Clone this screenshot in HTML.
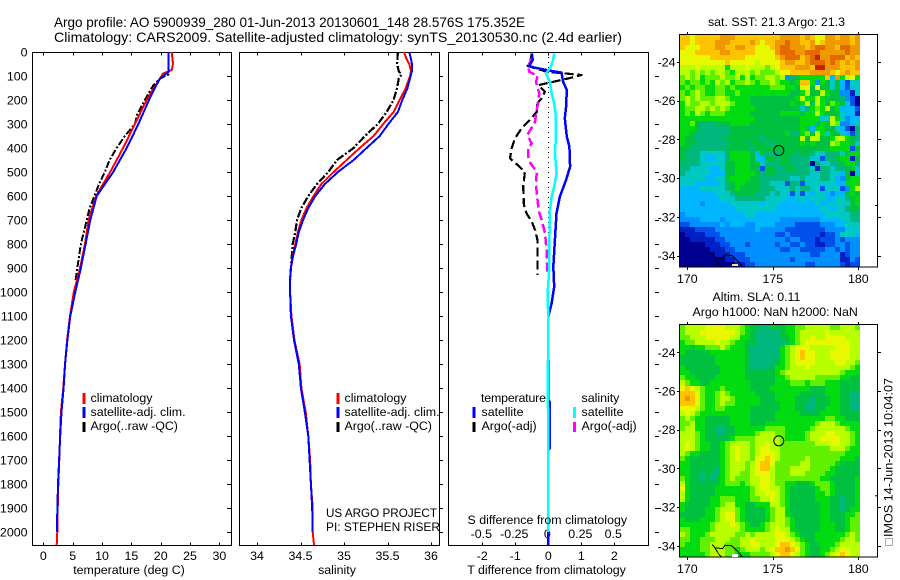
<!DOCTYPE html>
<html><head><meta charset="utf-8"><title>Argo profile</title>
<style>
html,body{margin:0;padding:0;background:#fff;}
svg{display:block;}
text{font-family:"Liberation Sans",sans-serif;font-size:12.4px;fill:#000;}
.t{font-size:14px;}
</style></head>
<body>
<svg id="fig" xmlns="http://www.w3.org/2000/svg" width="900" height="580" viewBox="0 0 900 580">
<rect width="900" height="580" fill="#fff"/>
<g id="back"></g>
<g id="marks"></g>
<text class="t" x="54" y="27" textLength="471" lengthAdjust="spacingAndGlyphs">Argo profile: AO 5900939_280 01-Jun-2013 20130601_148 28.576S 175.352E</text>
<text class="t" x="54" y="42" textLength="568" lengthAdjust="spacingAndGlyphs">Climatology: CARS2009. Satellite-adjusted climatology: synTS_20130530.nc (2.4d earlier)</text>
<text x="129" y="574" text-anchor="middle">temperature (deg C)</text>
<text x="337" y="574" text-anchor="middle">salinity</text>
<text x="546.5" y="574" text-anchor="middle">T difference from climatology</text>
<text x="467.5" y="524">S difference from climatology</text>
<g>
<rect x="82.5" y="393" width="3" height="11" fill="#f00"/><rect x="82.5" y="407" width="3" height="11" fill="#00f"/><rect x="82.5" y="422" width="3" height="10" fill="#000"/>
<text x="90.5" y="402">climatology</text><text x="90.5" y="416">satellite-adj. clim.</text><text x="90.5" y="430">Argo(..raw -QC)</text>
</g>
<g>
<rect x="336.5" y="393" width="3" height="11" fill="#f00"/><rect x="336.5" y="407" width="3" height="11" fill="#00f"/><rect x="336.5" y="422" width="3" height="10" fill="#000"/>
<text x="344.5" y="402">climatology</text><text x="344.5" y="416">satellite-adj. clim.</text><text x="344.5" y="430">Argo(..raw -QC)</text>
</g>
<g>
<rect x="472.5" y="407" width="3" height="11" fill="#00f"/><rect x="472.5" y="422" width="3" height="10" fill="#000"/>
<rect x="573" y="407" width="3" height="11" fill="#0ff"/><rect x="573" y="422" width="3" height="10" fill="#f0f"/>
<text x="481" y="402" textLength="65">temperature</text><text x="481.5" y="416">satellite</text><text x="481.5" y="430">Argo(-adj)</text>
<text x="581.5" y="402">salinity</text><text x="581.5" y="416">satellite</text><text x="581.5" y="430">Argo(-adj)</text>
</g>
<text x="326" y="517" textLength="111" lengthAdjust="spacingAndGlyphs">US ARGO PROJECT</text>
<text x="326" y="531" textLength="114" lengthAdjust="spacingAndGlyphs">PI: STEPHEN RISER</text>
<text x="776.5" y="26" text-anchor="middle">sat. SST: 21.3 Argo: 21.3</text>
<text x="712.5" y="301">Altim. SLA: 0.11</text>
<text x="692.5" y="316">Argo h1000: NaN h2000: NaN</text>
<rect x="885.5" y="538.5" width="7" height="7" fill="none" stroke="#555" stroke-width="1" stroke-dasharray="1 1"/>
<text transform="translate(892.5,537) rotate(-90)" textLength="159" lengthAdjust="spacingAndGlyphs">IMOS 14-Jun-2013 10:04:07</text>
</svg>
<script>
// ---- profile data (depth in m) ----
const depthTicks = [0,100,200,300,400,500,600,700,800,900,1000,1100,1200,1300,1400,1500,1600,1700,1800,1900,2000];
const tempTicks = [0,5,10,15,20,25,30];
const salTicks = [34,34.5,35,35.5,36];
const salTickLabels = ['34','34.5','35','35.5','36'];
const dTTicks = [-2,-1,0,1,2];
const dSTicks = [-0.5,-0.25,0,0.25,0.5];
const dSTickLabels = ['-0.5','-0.25','0','0.25','0.5'];

const tempClimDepth = [0,50,75,90,150,200,300,400,500,600,700,800,900,1000,1100,1200,1300,1400,1500,1600,1700,1800,1900,2000,2054];
const tempClim = [21.87,22.1,21.87,20.4,18.85,17.6,15.6,13.6,11.4,9.0,7.7,7.1,6.25,5.2,4.55,4.05,3.7,3.4,3.0,2.85,2.73,2.56,2.45,2.39,2.28];
const tempSatDepth = [0,85,90,110,150,200,300,400,500,600,700,800,900,1000,1100,1200,1300,1400,1500,1600,1700,1800,1900,2000];
const tempSat = [21.3,21.3,21.0,19.9,19.0,18.0,16.2,14.2,11.9,9.1,8.0,7.2,6.4,5.45,4.6,4.1,3.72,3.45,3.1,2.88,2.7,2.5,2.4,2.3];
const tempArgoDepth = [0,85,95,110,140,200,260,300,350,400,450,500,550,600,650,700,800,900,950];
const tempArgo = [21.3,21.3,21.3,19.9,18.7,17.3,16.0,15.6,13.9,12.5,11.3,10.5,9.5,8.7,7.9,7.4,6.4,5.8,5.5];

const salClimDepth = [0,30,50,80,100,150,200,250,300,350,400,450,500,550,600,650,700,750,800,850,900,950,1000,1030,1100,1200,1300,1400,1500,1600,1700,1800,1900,2000,2054];
const salClim = [35.69,35.72,35.75,35.77,35.76,35.71,35.64,35.57,35.45,35.34,35.18,35.03,34.88,34.74,34.65,34.57,34.51,34.47,34.44,34.41,34.39,34.38,34.38,34.385,34.395,34.43,34.49,34.51,34.56,34.59,34.61,34.62,34.64,34.64,34.655];
const salSatDepth = [0,30,50,80,100,150,200,250,300,350,400,450,500,550,600,650,700,750,800,850,900,950,1000,1100,1200,1300,1400,1500,1600,1700,1800,1900,2000];
const salSat = [35.75,35.77,35.78,35.78,35.765,35.73,35.67,35.62,35.51,35.41,35.26,35.11,34.93,34.78,34.67,34.59,34.53,34.48,34.45,34.415,34.39,34.38,34.38,34.39,34.425,34.48,34.505,34.55,34.59,34.605,34.62,34.635,34.64];
const salArgoDepth = [0,50,80,95,110,150,200,250,300,350,400,450,500,550,600,650,700,750,800,850,900,950];
const salArgo = [35.62,35.61,35.63,35.66,35.63,35.61,35.57,35.49,35.39,35.24,35.11,34.92,34.82,34.69,34.59,34.51,34.46,34.44,34.41,34.40,34.39,34.38];

const dTSatDepth = [6,33,58,64,78,86,124,158,228,276,353,394,478,533,603,672,783,894,978,1047,1103,1450,1460,1650,1660,2054];
const dTSat = [-0.5,-0.47,-0.58,-0.45,0.05,0.40,0.45,0.56,0.54,0.5,0.56,0.64,0.66,0.54,0.35,0.25,0.2,0.15,0.18,0.1,0,0,0.05,0.05,0,0];
const dSSatDepth = [6,40,68,89,124,172,214,262,353,422,506,561,603,658,783,894,1006,1117,1400,1600,2000];
const dSSat = [0.045,0.033,0.013,-0.018,0.013,0.025,0.045,0.056,0.058,0.05,0.063,0.045,0.025,0.013,0.008,0.008,-0.005,0,-0.004,0,0];
const dSArgoDepth = [19,58,82,100,124,151,172,207,242,290,304,346,381,401,436,464,499,554,610,665,700,756,825,908,936];
const dSArgo = [-0.119,-0.152,-0.144,-0.081,-0.093,-0.081,-0.068,-0.076,-0.088,-0.101,-0.114,-0.159,-0.126,-0.152,-0.152,-0.134,-0.088,-0.093,-0.083,-0.071,-0.05,-0.025,-0.013,-0.008,0.003];
const dTArgoDepth = [6,54,58,82,96,110,124,138,165,193,214,249,283,318,360,401,443,471,499,561,638,672,707,742,783,867,929];
const dTArgo = [-0.5,-0.57,-0.63,-0.05,1.01,0.61,0.15,-0.3,-0.1,-0.2,-0.33,-0.35,-0.56,-0.81,-1.01,-1.11,-1.16,-0.93,-0.71,-0.76,-0.74,-0.66,-0.5,-0.4,-0.33,-0.33,-0.33];

// ---- map data: colour-level per cell, hex digit per cell, north to south ----
const mapLonTicks = [170,175,180];
const mapLatTicks = [24,26,28,30,32,34];
const coastLon = [171.46,171.62,172.07,172.2,172.6,172.98,173.24];
const coastLat = [33.94,34.11,34.14,33.97,34.0,34.32,34.6];
const coastLon2 = [171.62,171.81,172.0];
const coastLat2 = [34.11,34.4,34.58];
const argoLon = 175.352;
const argoLat = 28.576;
const sstRows = [
"ccbccc ccdddc cccccc ccdddd cdcbbd dcddcd",
"ccbccc cdddcc ccdcbc cddedd ccdbcd ddddcd",
"cbbbcc cddccd dccbbb cdeedd dcdeed dceedd",
"bbbccc ccddcc cccbbb bdeeed deeedd dddedd",
"bbbbbb cccccc cbbbbb bcdeee cdefdd eeecdc",
"bbbbbb bbbcbb bbbabb bbcddc cdeeed edcdcd",
"aaabaa aaa8aa abaaa9 abcccd ddcffd ddcccd",
"aa9a9a 9aa98a aa9a99 9abbcc ccdddd cbcdcc",
"9a9a89 99a99a 8a899a a9a367 88888c 4d8ab8",
"989989 8a9a89 9a9899 a98878 cc8387 574255",
"898998 899898 888888 999887 bb7b77 574255",
"989a98 899889 888888 888877 8a77a8 773315",
"9a9a99 9aa988 887777 777778 a88a87 776320",
"8a99aa 9aaa98 887777 777787 8a7a87 987520",
"899aa9 a9a988 888777 777777 56898a 784442",
"898a98 999888 887777 778888 788a87 775441",
"888888 888888 888777 777777 888855 a85344",
"889766 677788 887777 777777 888687 a93345",
"888766 666677 777777 777777 874887 754206",
"887666 666677 777777 777866 897a85 775426",
"877666 666777 777767 777777 a7aa77 8aa876",
"877666 666677 767776 677777 878777 a98875",
"776666 666777 776777 777777 777777 888827",
"766655 555688 887476 667776 776556 665788",
"766654 455688 887547 767766 665526 678817",
"666655 555778 887756 667766 660655 667886",
"665555 445778 887727 766776 665166 566775",
"655555 444778 888767 766666 665566 554705",
"555554 455788 887766 666655 655566 543788",
"555444 445678 877766 555266 255555 544888",
"444455 555678 777766 655565 665525 55238a",
"444444 455567 777666 565525 254554 344787",
"444444 445556 666665 555445 545554 455678",
"444434 444455 555545 554444 444544 555578",
"444444 444445 555555 544444 444455 455677",
"344444 444444 455444 444444 444445 555566",
"333344 443444 444444 443333 333344 445566",
"223333 334344 433444 433332 222233 344555",
"111222 233333 333433 333222 222223 333555",
"011112 223333 333333 322322 222212 235554",
"001111 122333 333333 333233 222122 232333",
"000001 112233 323333 323322 322112 233233",
"000000 111223 333333 332233 222223 323233",
"000000 011122 233333 333333 332233 331233",
"000000 000112 223333 333323 333333 331132",
"000000 000001 122333 333333 322333 332122"
];
const slaRows = [
"9aaaab bbbaaa 987766 777889 9aaaaa 99aaa9",
"9aaabb bbbbba 987666 667889 aaaaab aaaaaa",
"99aaab bbbbaa 887666 667789 aabaab bbbaaa",
"899aaa abaa98 877666 666789 abbbbb bbbbaa",
"887889 99a988 876666 6689ab bbaaaa abbbaa",
"877777 888888 876666 6689ab cbbaaa bbbbaa",
"777777 788888 876666 6689ab cbbaaa bbbbaa",
"777777 788888 876666 6789ab bbbaaa abbaa9",
"877777 778888 876666 7889aa abaaaa aaaa98",
"887777 778888 877777 789aaa aaaaaa aa9888",
"988777 788888 877777 7889aa aaa999 998877",
"a98877 888888 887777 788899 989998 887777",
"bcba98 889888 887777 888888 887778 887777",
"cccb98 89a988 888777 788888 777778 887766",
"cdcb98 89aa98 888877 788887 776777 887766",
"cccb98 89a998 888877 778887 766777 887766",
"bbba98 899888 887777 778887 766778 887766",
"aba988 888888 887777 788888 777788 887777",
"9a9887 777788 887777 788888 888889 988777",
"99a887 777788 887778 888888 8889aa a98888",
"9aa887 766778 888889 999888 889aaa aaa988",
"aaa987 766778 8889aa a99888 89aaab baaa98",
"aaa987 777789 999aaa aa9888 89aabb bbaa98",
"aba988 7789aa aa9aab aa9999 999aaa bbaa98",
"aba988 7789ab aa9abb aa9999 999999 aaa988",
"a98877 7789ab aa9abb ba9999 999999 999888",
"987777 7789ab aa9bbc ba9999 9a9999 998887",
"887777 7789aa a9abcc b99999 aa9999 987777",
"887777 7689aa a9abcc a999aa aa9999 877777",
"887767 6689aa 99abbb a999aa a99998 877777",
"987767 6789a9 99aabb a99999 999988 777778",
"a87777 778999 89aabb a99887 778999 877778",
"b87777 788888 889abb aa9877 777899 877778",
"a87777 788888 889aab ba9877 777889 877778",
"a87777 889998 8899aa ba9877 777888 776778",
"877777 889aa8 877888 aa9877 777788 776778",
"877778 89aaa9 877778 9aa877 777788 776788",
"777778 89abb9 877778 9aa877 777788 777889",
"877788 89abb9 877778 9aa987 777788 777899",
"888888 9aaaba 987789 aaa987 777788 877899",
"998888 9aaaaa 988889 abaa87 777788 877899",
"a98889 aaaaa9 9a9aaa abba98 777888 8889a9",
"998899 9aaa99 aabaaa abbba9 877888 889aa9",
"988899 aaa999 aabbaa abccba 987788 89aaaa",
"888899 aaa998 9aaa9a bccdcb 987788 9abbaa",
"888889 aaa998 889999 abccba 987789 abcbaa"
];
const levelColors = ['#000090','#0020c4','#0050ec','#0090ff','#00b6ff','#00c8c4','#00b87c','#00c040','#00dc10','#60f000','#b8ff00','#e8f800','#ffc400','#f09800','#e46a00','#c42400'];

// ---- axis functions ----
function depthY(d){return 52+0.24*d;}
function tempX(v){return 43.3+5.87*v;}
function salX(v){return 257+87*(v-34);}
function dTX(v){return 548.3+33*v;}
function dSX(v){return 548.3+132*v;}
function lonX(v){return 687.3+17.1*(v-170);}
function latY(v,map){return map+19.35*(v-24);}

const NS='http://www.w3.org/2000/svg';
const back=document.getElementById('back');
const marks=document.getElementById('marks');
function mk(tag,parent,attrs,name){
  const el=document.createElementNS(NS,tag);
  for(const k in attrs) el.setAttribute(k,attrs[k]);
  
  
  parent.appendChild(el);
  return el;
}
function seg(x1,y1,x2,y2,name,parent){
  return mk('line',parent||back,{x1:x1,y1:y1,x2:x2,y2:y2,stroke:'#000','stroke-width':1,'shape-rendering':'crispEdges'},name);
}
function label(x,y,str,anchor,name){
  const t=mk('text',back,{x:x,y:y,'text-anchor':anchor},name);
  t.textContent=str;
  return t;
}
function profile(depths,vals,xf,color,width,dash,name){
  const pts=depths.map((d,i)=>xf(vals[i]).toFixed(1)+','+depthY(d).toFixed(1)).join(' ');
  const a={points:pts,fill:'none',stroke:color,'stroke-width':width,'stroke-linejoin':'round','shape-rendering':'crispEdges'};
  if(dash) a['stroke-dasharray']=dash;
  return mk('polyline',marks,a,name);
}

// ---- profile panels ----
const T=52.5,B=545.5;
function panel(l,r,tickL,tickR,ticks,xf,labels,name){
  mk('rect',back,{x:l,y:T,width:r-l,height:B-T,fill:'none',stroke:'#000','stroke-width':1,'shape-rendering':'crispEdges'},name+'-frame');
  ticks.forEach(function(v,i){
    const x=Math.round(xf(v))+0.5;
    seg(x,T,x,T+3,name+'-top-tick');
    seg(x,B-3,x,B,name+'-bottom-tick');
    if(labels) label(xf(v),560,labels[i],'middle',name+'-tick-label');
  });
  depthTicks.forEach(function(d){
    const y=Math.round(depthY(d))+0.5;
    if(d>0) seg(tickL,y,tickR,y,name+'-depth-tick');
  });
}
panel(32.5,231.5,227,231,tempTicks,tempX,tempTicks.map(String),'temperature-panel');
panel(239.5,439.5,440,443,salTicks,salX,salTickLabels,'salinity-panel');
panel(448.5,648.5,655,659,dTTicks,dTX,dTTicks.map(String),'difference-panel');
depthTicks.forEach(function(d){
  label(27.5,depthY(d)+4.5,String(d),'end','depth-tick-label');
});
dSTicks.forEach(function(v,i){
  label(dSX(v)-1,538,dSTickLabels[i],'middle','s-difference-tick-label');
});
mk('line',back,{x1:548.5,y1:52,x2:548.5,y2:545,stroke:'#000','stroke-width':1,'stroke-dasharray':'1 4','shape-rendering':'crispEdges'},'zero-reference-line');

profile(tempArgoDepth,tempArgo,tempX,'#000',2,'7 2 2 2','temperature-argo-line');
profile(tempClimDepth,tempClim,tempX,'#f00',2,null,'temperature-climatology-line');
profile(tempSatDepth,tempSat,tempX,'#00f',2,null,'temperature-satellite-line');
profile(salArgoDepth,salArgo,salX,'#000',2.2,'8 2 2 2','salinity-argo-line');
profile(salClimDepth,salClim,salX,'#f00',2,null,'salinity-climatology-line');
profile(salSatDepth,salSat,salX,'#00f',2,null,'salinity-satellite-line');
profile(dTArgoDepth,dTArgo,dTX,'#000',2.2,'9 4','t-difference-argo-line');
profile(dSArgoDepth,dSArgo,dSX,'#f0f',2.5,'9 4','s-difference-argo-line');
profile(dTSatDepth,dTSat,dTX,'#00f',2.5,null,'t-difference-satellite-line');
profile(dSSatDepth,dSSat,dSX,'#0ff',2.5,null,'s-difference-satellite-line');

// ---- maps ----
function drawMap(rows,top,bottom,lat24,labelY,name){
  const g=mk('g',back,{},name+'-heatmap');
  const grid=rows.map(r=>r.replace(/ /g,''));
  const h=(bottom-top)/grid.length;
  grid.forEach(function(row,r){
    const w=180/row.length;
    for(let c=0;c<row.length;c++){
      const level=parseInt(row[c],16);
      const y0=Math.round(top+r*h), y1=Math.round(top+(r+1)*h);
      mk('rect',g,{x:680+c*w,y:y0,width:w,height:y1-y0,fill:levelColors[level],'shape-rendering':'crispEdges'},name+'-cell');
    }
  });
  mk('rect',back,{x:679.5,y:top-0.5,width:198,height:bottom-top+0.5,fill:'none',stroke:'#000','stroke-width':1,'shape-rendering':'crispEdges'},name+'-frame');
  mapLonTicks.forEach(function(v){
    const x=Math.round(lonX(v))+0.5;
    seg(x,top-3,x,top,name+'-top-tick');
    seg(x,bottom,x,bottom+3,name+'-bottom-tick');
    label(lonX(v),labelY,String(v),'middle',name+'-lon-label');
  });
  mapLatTicks.forEach(function(v){
    const y=Math.round(latY(v,lat24))+0.5;
    seg(677,y,680,y,name+'-left-tick');
    seg(878,y,881,y,name+'-right-tick');
    label(675.5,latY(v,lat24)+4.5,'-'+v,'end',name+'-lat-label');
  });
  mk('polyline',back,{points:coastLon.map((v,i)=>lonX(v).toFixed(1)+','+latY(coastLat[i],lat24).toFixed(1)).join(' '),fill:'none',stroke:'#000','stroke-width':1,'shape-rendering':'crispEdges'},name+'-coastline');
  mk('polyline',back,{points:coastLon2.map((v,i)=>lonX(v).toFixed(1)+','+latY(coastLat2[i],lat24).toFixed(1)).join(' '),fill:'none',stroke:'#000','stroke-width':1,'shape-rendering':'crispEdges'},name+'-coastline-inner');
  mk('circle',back,{cx:lonX(argoLon),cy:latY(argoLat,lat24),r:5,fill:'none',stroke:'#000','stroke-width':1},name+'-argo-position');
  mk('rect',back,{x:875,y:lat24+143,width:2,height:1,fill:'#000'},name+'-edge-mark');
}
drawMap(sstRows,35,267,62,283,'sst-map');
drawMap(slaRows,325,557,352.3,573,'sla-map');
mk('rect',back,{x:732,y:264,width:6,height:2,fill:'#ffe080'},'sst-map-land-patch');
mk('rect',back,{x:732,y:554,width:6,height:3,fill:'#fff'},'sla-map-land-patch');
</script>
</body></html>
